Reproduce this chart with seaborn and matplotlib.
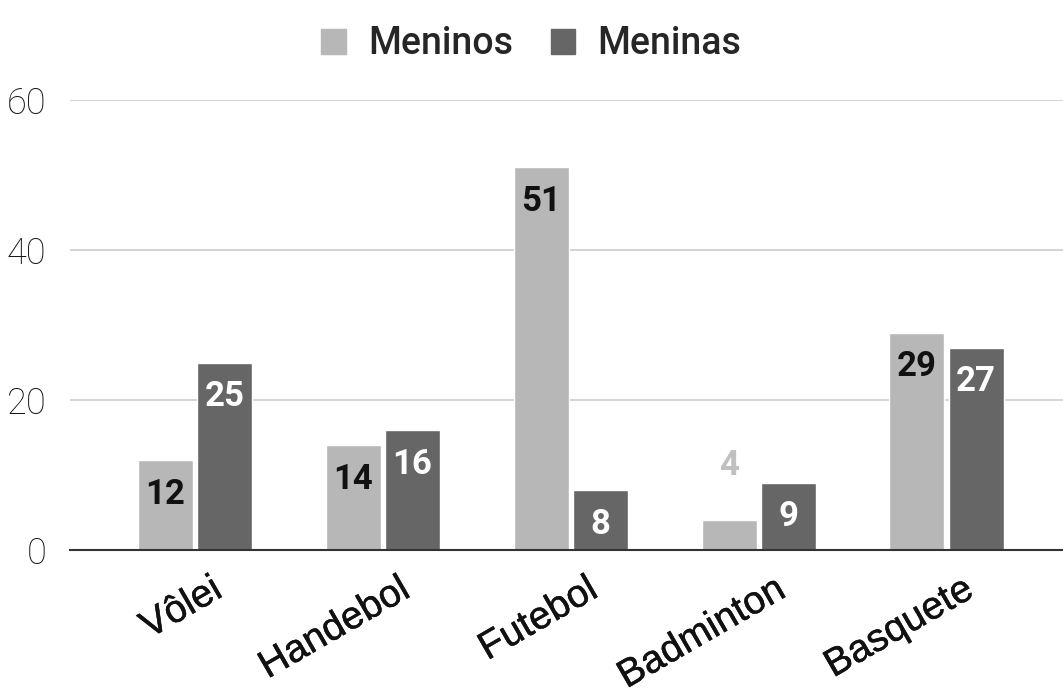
import pandas as pd
import matplotlib.pyplot as plt
import matplotlib.transforms as mtrans
import matplotlib.patheffects as pe
import seaborn as sns

# dados do grafico
esportes = ['Vôlei', 'Handebol', 'Futebol', 'Badminton', 'Basquete']
meninos = [12, 14, 51, 4, 29]
meninas = [25, 16, 8, 9, 27]
series = ['Meninos', 'Meninas']
cores = ['#b7b7b7', '#666666']

df = pd.DataFrame({
    'esporte': esportes * 2,
    'grupo': ['Meninos'] * len(esportes) + ['Meninas'] * len(esportes),
    'valor': meninos + meninas,
})

sns.set_style('white')
plt.rcParams['font.family'] = ['Roboto', 'DejaVu Sans']

fig = plt.figure(figsize=(10.63, 6.99), dpi=100)
ax = fig.add_axes([0.066, 0.213, 0.934, 0.644])

sns.barplot(data=df, x='esporte', y='valor', hue='grupo', hue_order=series,
            palette=cores, width=0.63, gap=0.07, saturation=1, ax=ax, legend=False)

ax.set_ylim(0, 60)
ax.set_xlim(-0.665, 4.62)
ax.set_yticks([0, 20, 40, 60])
ax.yaxis.grid(True, color='#cccccc', linewidth=1.2)
ax.set_axisbelow(True)
for s in ['top', 'right', 'left']:
    ax.spines[s].set_visible(False)
ax.spines['bottom'].set_color('#333333')
ax.spines['bottom'].set_linewidth(1.5)
ax.set_xlabel('')
ax.set_ylabel('')
ax.tick_params(axis='y', length=0, pad=17, labelsize=26, labelcolor='#111111')
ax.tick_params(axis='x', length=0)
for lab in ax.get_yticklabels():
    lab.set_fontweight('light')

# rotulos no eixo x
off = mtrans.ScaledTranslation(0.24, -0.32, fig.dpi_scale_trans)
ax.set_xticks(range(len(esportes)))
ax.set_xticklabels(esportes, rotation=30, ha='right', va='center',
                   rotation_mode='anchor', fontsize=28, color='#111111',
                   family=['Liberation Sans', 'DejaVu Sans'])
for lab in ax.get_xticklabels():
    lab.set_transform(lab.get_transform() + off)
    lab.set_path_effects([pe.withStroke(linewidth=0.35, foreground='#111111')])

# valores nas barras
for cont, cor_txt in zip(ax.containers, ['#111111', 'white']):
    for barra in cont:
        v = barra.get_height()
        x = barra.get_x() + barra.get_width() / 2
        if v >= 8:
            ax.annotate(f'{v:.0f}', (x, v), xytext=(0, -34), textcoords='offset pixels',
                        ha='center', va='center', fontsize=25, fontweight='bold',
                        color=cor_txt)
        else:
            ax.annotate(f'{v:.0f}', (x, v), xytext=(0, 55), textcoords='offset pixels',
                        ha='center', va='center', fontsize=25, fontweight='bold',
                        color='#c0c0c0')

# legenda
handles = [plt.Rectangle((0, 0), 1, 1, color=c) for c in cores]
fig.legend(handles, series, loc='upper center', bbox_to_anchor=(0.5, 1.012), ncol=2,
           frameon=False, handlelength=0.65, handleheight=0.65,
           handletextpad=0.6, columnspacing=1.0,
           prop={'family': 'Roboto', 'weight': 'medium', 'size': 27})

fig.savefig('out.png', dpi=100)
